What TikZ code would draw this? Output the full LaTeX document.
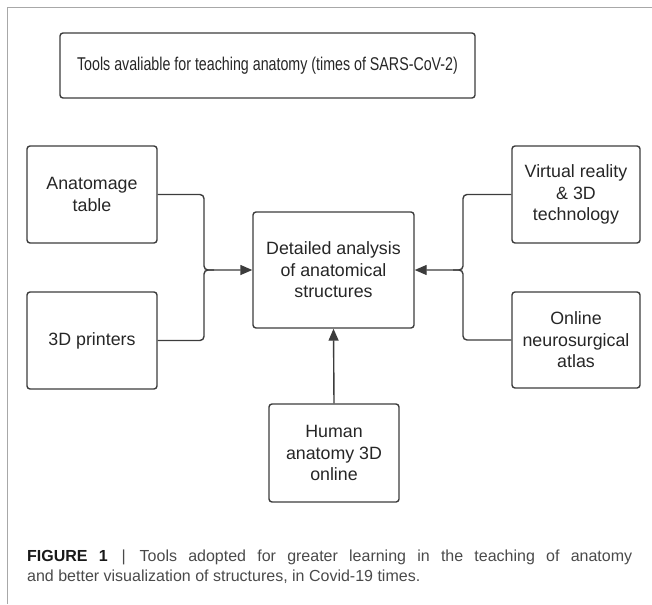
\documentclass[tikz,border=0pt]{standalone}
\usepackage{fontspec}
\setmainfont{Liberation Sans}
\usepackage{xcolor}
\usepackage{tikz}
\usetikzlibrary{positioning, arrows.meta}

\definecolor{boxgray}{HTML}{3C3C3C}
\definecolor{framegray}{HTML}{A8A8A8}
\definecolor{capgray}{HTML}{4A4A4A}

\begin{document}
\begin{tikzpicture}[x=1pt, y=-1pt,
    box/.style={draw=boxgray, line width=1.4pt, rounded corners=3pt, align=center,
      text=black!85, font=\fontsize{17.8}{21.5}\selectfont, inner sep=0pt},
    link/.style={draw=boxgray, line width=1.4pt, rounded corners=4pt},
    arr/.style={link, -{Triangle[length=12pt, width=10pt]}}]
  \useasboundingbox (0,0) rectangle (652,604);
  \draw[framegray, line width=0.8pt] (7,604) -- (7,7) -- (652,7);

  \node[box, minimum width=415pt, minimum height=65pt] (title) at (267.5,65.5)
    {\scalebox{0.77}[1]{\fontsize{18.5}{22}\selectfont Tools avaliable for teaching anatomy (times of SARS-CoV-2)}};

  \node[box, minimum width=130pt, minimum height=97pt] (anat) at (92,194.5) {Anatomage\\table};
  \node[box, minimum width=130pt, minimum height=97pt] (printers) at (92,340.5) {3D printers};
  \node[box, minimum width=161pt, minimum height=116pt] (detail) at (333.5,270) {Detailed analysis\\of anatomical\\structures};
  \node[box, minimum width=128pt, minimum height=97pt] (vr) at (576,194.5) {Virtual reality\\\& 3D\\technology};
  \node[box, minimum width=128pt, minimum height=96pt] (atlas) at (576,340) {Online\\neurosurgical\\atlas};
  \node[box, minimum width=130pt, minimum height=98pt] (human) at (334,453) {Human\\anatomy 3D\\online};

  \coordinate (jl) at (204,270);
  \coordinate (jr) at (463,270);

  % left and right brackets
  \draw[arr] (anat.east) -| (jl) -- (detail.west);
  \draw[link] (printers.east) -| (jl) -- ++(10,0);
  \draw[arr] (vr.west) -| (jr) -- (detail.east);
  \draw[link] (atlas.west) -| (jr) -- ++(-10,0);
  \draw[arr] (human.north) -- (detail.south);

  \node[anchor=north west, text width=605pt, align=justify, inner sep=0pt, text=capgray,
    font=\fontsize{16}{20}\selectfont] (caption) at (27,550)
    {\textcolor{black!90}{\textbf{FIGURE 1}}\, | \,Tools adopted for greater learning in the teaching of anatomy\linebreak
     and better visualization of structures, in Covid-19 times.};
\end{tikzpicture}
\end{document}
